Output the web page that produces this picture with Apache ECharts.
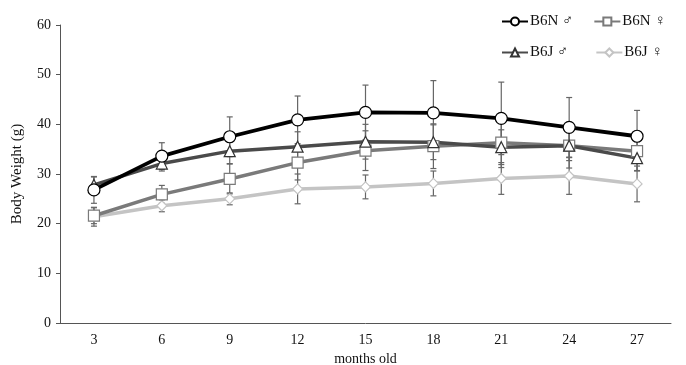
<!DOCTYPE html>
<html>
<head>
<meta charset="utf-8">
<script src="https://cdn.jsdelivr.net/npm/echarts@6/dist/echarts.min.js"></script>
<style>html,body{margin:0;padding:0;background:#fff}#c{width:686px;height:365px}</style>
</head>
<body>
<div id="c"></div>
<script>
const categories = ['3','6','9','12','15','18','21','24','27'];
const b6nMale = [26.8, 33.6, 37.5, 40.9, 42.4, 42.3, 41.2, 39.4, 37.6];
const b6nMaleErr = [2.7, 2.7, 4.0, 4.8, 5.5, 6.5, 7.3, 6.0, 5.2];
const b6nFemale = [21.6, 25.9, 29.0, 32.3, 34.7, 35.6, 36.3, 35.7, 34.6];
const b6nFemaleErr = [1.6, 1.8, 3.0, 3.5, 4.0, 4.5, 5.0, 4.5, 4.0];
const b6jMale = [27.8, 32.1, 34.6, 35.5, 36.5, 36.4, 35.4, 35.7, 33.2];
const b6jMaleErr = [1.6, 1.5, 2.5, 3.0, 3.5, 3.5, 3.5, 3.0, 2.5];
const b6jFemale = [21.4, 23.6, 25.0, 27.0, 27.4, 28.1, 29.1, 29.6, 28.0];
const b6jFemaleErr = [1.9, 1.2, 1.2, 3.0, 2.4, 2.5, 3.2, 3.7, 3.6];
const yTicks = [0, 10, 20, 30, 40, 50, 60];

const serif = '"Liberation Serif", "DejaVu Serif", serif';

function errData(vals, errs) {
  return vals.map((v, i) => [i, v - errs[i], v + errs[i]]);
}
function errSeries(name, vals, errs) {
  return {
    type: 'custom',
    name: name + ' err',
    z: 1,
    silent: true,
    data: errData(vals, errs),
    renderItem: function (params, api) {
      const x = api.value(0);
      const lo = api.coord([x, api.value(1)]);
      const hi = api.coord([x, api.value(2)]);
      const cw = 3;
      const style = { stroke: '#666', lineWidth: 1.2 };
      return {
        type: 'group',
        children: [
          { type: 'line', shape: { x1: lo[0], y1: lo[1], x2: hi[0], y2: hi[1] }, style: style },
          { type: 'line', shape: { x1: lo[0]-cw, y1: lo[1], x2: lo[0]+cw, y2: lo[1] }, style: style },
          { type: 'line', shape: { x1: hi[0]-cw, y1: hi[1], x2: hi[0]+cw, y2: hi[1] }, style: style }
        ]
      };
    }
  };
}
function lineSeries(name, vals, color, width, symbol, size, border) {
  return {
    type: 'line',
    name: name,
    z: 3,
    data: vals,
    symbol: symbol,
    symbolSize: size,
    showAllSymbol: true,
    lineStyle: { color: color, width: width },
    itemStyle: { color: '#fff', borderColor: border || color, borderWidth: 1.2 },
    emphasis: { disabled: true }
  };
}

const legendText = { fontFamily: serif, fontSize: 15, color: '#111', padding: [0, 0, 0, -3] };
const chart = echarts.init(document.getElementById('c'));
chart.setOption({
  animation: false,
  backgroundColor: '#fff',
  grid: { left: 60, right: 15, top: 25, bottom: 42, outerBoundsMode: 'none', containLabel: false },
  legend: [
    { data: ['B6N ♂', 'B6N ♀'], left: 496, top: 9, itemWidth: 26, itemHeight: 10, itemGap: 20,
      textStyle: legendText },
    { data: ['B6J ♂', 'B6J ♀'], left: 496, top: 40, itemWidth: 26, itemHeight: 10, itemGap: 27,
      textStyle: legendText }
  ],
  xAxis: {
    type: 'category',
    data: categories,
    boundaryGap: true,
    name: 'months old',
    nameLocation: 'middle',
    nameGap: 27,
    nameTextStyle: { fontFamily: serif, fontSize: 14, color: '#111' },
    axisLine: { lineStyle: { color: '#555', width: 1 } },
    axisTick: { alignWithLabel: false, length: 4, lineStyle: { color: '#555' } },
    axisLabel: { fontFamily: serif, fontSize: 14, color: '#111', margin: 10 }
  },
  yAxis: {
    type: 'value',
    min: yTicks[0],
    max: yTicks[yTicks.length - 1],
    interval: 10,
    name: 'Body Weight (g)',
    nameLocation: 'middle',
    nameGap: 35,
    nameTextStyle: { fontFamily: serif, fontSize: 15, color: '#111' },
    axisLine: { show: true, lineStyle: { color: '#555', width: 1 } },
    axisTick: { show: true, length: 4, lineStyle: { color: '#555' } },
    splitLine: { show: false },
    axisLabel: { fontFamily: serif, fontSize: 14, color: '#111', margin: 9 }
  },
  series: [
    errSeries('B6N ♂', b6nMale, b6nMaleErr),
    errSeries('B6N ♀', b6nFemale, b6nFemaleErr),
    errSeries('B6J ♂', b6jMale, b6jMaleErr),
    errSeries('B6J ♀', b6jFemale, b6jFemaleErr),
    lineSeries('B6J ♀', b6jFemale, '#c4c4c4', 3.5, 'diamond', 10, '#c4c4c4'),
    lineSeries('B6N ♀', b6nFemale, '#7a7a7a', 3.5, 'rect', 11, '#7a7a7a'),
    lineSeries('B6J ♂', b6jMale, '#4a4a4a', 3.5, 'triangle', 11, '#333'),
    lineSeries('B6N ♂', b6nMale, '#000', 3.8, 'circle', 12, '#000')
  ]
});
</script>
</body>
</html>
